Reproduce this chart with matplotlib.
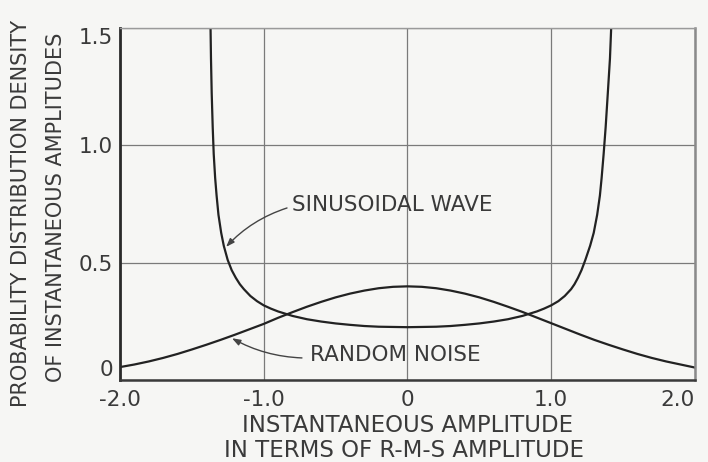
import matplotlib
matplotlib.use("Agg")
import matplotlib.pyplot as plt

# values
# sinusoidal wave, left branch (x, density)
sine_left_x = [-1.373, -1.371, -1.367, -1.362, -1.355, -1.348, -1.338, -1.328, -1.315,
               -1.296, -1.278, -1.251, -1.223, -1.194, -1.166, -1.138, -1.093, -1.047,
               -1.00, -0.95, -0.90, -0.80, -0.70, -0.60, -0.50, -0.40, -0.30, -0.20,
               -0.10, 0.0]
sine_left_y = [1.65, 1.539, 1.370, 1.222, 1.077, 0.963, 0.861, 0.786, 0.704,
               0.627, 0.572, 0.512, 0.468, 0.435, 0.408, 0.387, 0.358, 0.336,
               0.318, 0.304, 0.292, 0.273, 0.259, 0.249, 0.241, 0.235, 0.230, 0.227,
               0.226, 0.225]
# right branch
sine_right_x = [0.10, 0.20, 0.30, 0.40, 0.50, 0.60, 0.70, 0.80, 0.90, 0.95, 1.00, 1.05,
                1.0945, 1.1385, 1.162, 1.186, 1.211, 1.238, 1.271, 1.296, 1.320, 1.339,
                1.351, 1.365, 1.379, 1.394, 1.409, 1.420, 1.422]
sine_right_y = [0.226, 0.227, 0.230, 0.235, 0.241, 0.249, 0.259, 0.273, 0.292, 0.304,
                0.318, 0.336, 0.358, 0.387, 0.408, 0.435, 0.468, 0.512, 0.572, 0.627,
                0.704, 0.786, 0.861, 0.963, 1.077, 1.222, 1.370, 1.539, 1.65]

# random noise (bell-shaped curve)
noise_x = [-2.0, -1.9, -1.8, -1.7, -1.6, -1.5, -1.4, -1.3, -1.2, -1.1, -1.0, -0.9, -0.8,
           -0.7, -0.6, -0.5, -0.4, -0.3, -0.2, -0.1, 0.0, 0.1, 0.2, 0.3, 0.4, 0.5, 0.6,
           0.7, 0.8, 0.9, 1.0, 1.1, 1.2, 1.3, 1.4, 1.5, 1.6, 1.7, 1.8, 1.9, 2.0]
noise_y = [0.055, 0.066, 0.079, 0.094, 0.111, 0.130, 0.150, 0.171, 0.193, 0.216, 0.239,
           0.265, 0.289, 0.312, 0.333, 0.352, 0.368, 0.381, 0.391, 0.397, 0.399, 0.397,
           0.391, 0.381, 0.368, 0.352, 0.333, 0.312, 0.290, 0.266, 0.242, 0.218, 0.194,
           0.171, 0.150, 0.130, 0.111, 0.094, 0.079, 0.066, 0.053]

x_ticks = [-2.0, -1.0, 0.0, 1.0, 2.0]
x_tick_labels = ["-2.0", "-1.0", "0", "1.0", "2.0"]
y_ticks = [0.0, 0.5, 1.0, 1.5]
y_tick_labels = ["0", "0.5", "1.0", "1.5"]

bg = "#f6f6f4"
ink = "#222222"
txt = "#3a3a3a"

plt.rcParams['font.family'] = ['DejaVu Sans']

fig = plt.figure(figsize=(7.08, 4.62), dpi=100, facecolor=bg)
ax = fig.add_axes([0.1695, 0.1775, 0.812, 0.762])
ax.set_facecolor(bg)

ax.plot(sine_left_x + sine_right_x, sine_left_y + sine_right_y, color=ink, lw=1.6,
        solid_joinstyle='round')
ax.plot(noise_x, noise_y, color=ink, lw=1.6, solid_joinstyle='round')

ax.set_xlim(-2.0, 2.0)
ax.set_ylim(0.0, 1.5)

ax.set_xticks(x_ticks)
ax.set_xticklabels(x_tick_labels)
ax.set_yticks(y_ticks)
ax.set_yticklabels(y_tick_labels)
ax.tick_params(length=0, labelsize=15.5, labelcolor=txt)
ax.tick_params(axis='x', pad=7)
ax.tick_params(axis='y', pad=5)

xl = ax.get_xticklabels()
xl[-1].set_ha('right')
yl = ax.get_yticklabels()
yl[0].set_va('bottom')
yl[-1].set_va('top')

ax.grid(True, color="#7a7a7a", lw=0.9)

ax.spines['left'].set_color("#2a2a2a")
ax.spines['left'].set_linewidth(2.0)
ax.spines['bottom'].set_color("#3a3a3a")
ax.spines['bottom'].set_linewidth(1.8)
ax.spines['right'].set_color("#8a8a8a")
ax.spines['right'].set_linewidth(1.8)
ax.spines['top'].set_color("#9a9a9a")
ax.spines['top'].set_linewidth(1.0)

# curve labels with leader arrows
ax.text(-0.80, 0.745, "SINUSOIDAL WAVE", fontsize=15.5, color=txt, va='center', ha='left')
ax.annotate("", xy=(-1.262, 0.567), xytext=(-0.838, 0.733),
            arrowprops=dict(arrowstyle="-|>,head_length=0.5,head_width=0.18",
                            color="#444444", lw=1.0,
                            connectionstyle="arc3,rad=0.13", shrinkA=0, shrinkB=0))

ax.text(-0.675, 0.107, "RANDOM NOISE", fontsize=15.5, color=txt, va='center', ha='left')
ax.annotate("", xy=(-1.221, 0.178), xytext=(-0.734, 0.094),
            arrowprops=dict(arrowstyle="-|>,head_length=0.5,head_width=0.18",
                            color="#444444", lw=1.0,
                            connectionstyle="arc3,rad=-0.12", shrinkA=0, shrinkB=0))

# axis titles, two lines each
fig.text(0.030, 0.539, "PROBABILITY DISTRIBUTION DENSITY", rotation=90,
         fontsize=15, color=txt, ha='center', va='center')
fig.text(0.079, 0.552, "OF INSTANTANEOUS AMPLITUDES", rotation=90,
         fontsize=15, color=txt, ha='center', va='center')
fig.text(0.576, 0.080, "INSTANTANEOUS AMPLITUDE", fontsize=16.5,
         color=txt, ha='center', va='center')
fig.text(0.571, 0.024, "IN TERMS OF R-M-S AMPLITUDE", fontsize=16.5,
         color=txt, ha='center', va='center')

fig.savefig("out.png", dpi=100, facecolor=bg)
